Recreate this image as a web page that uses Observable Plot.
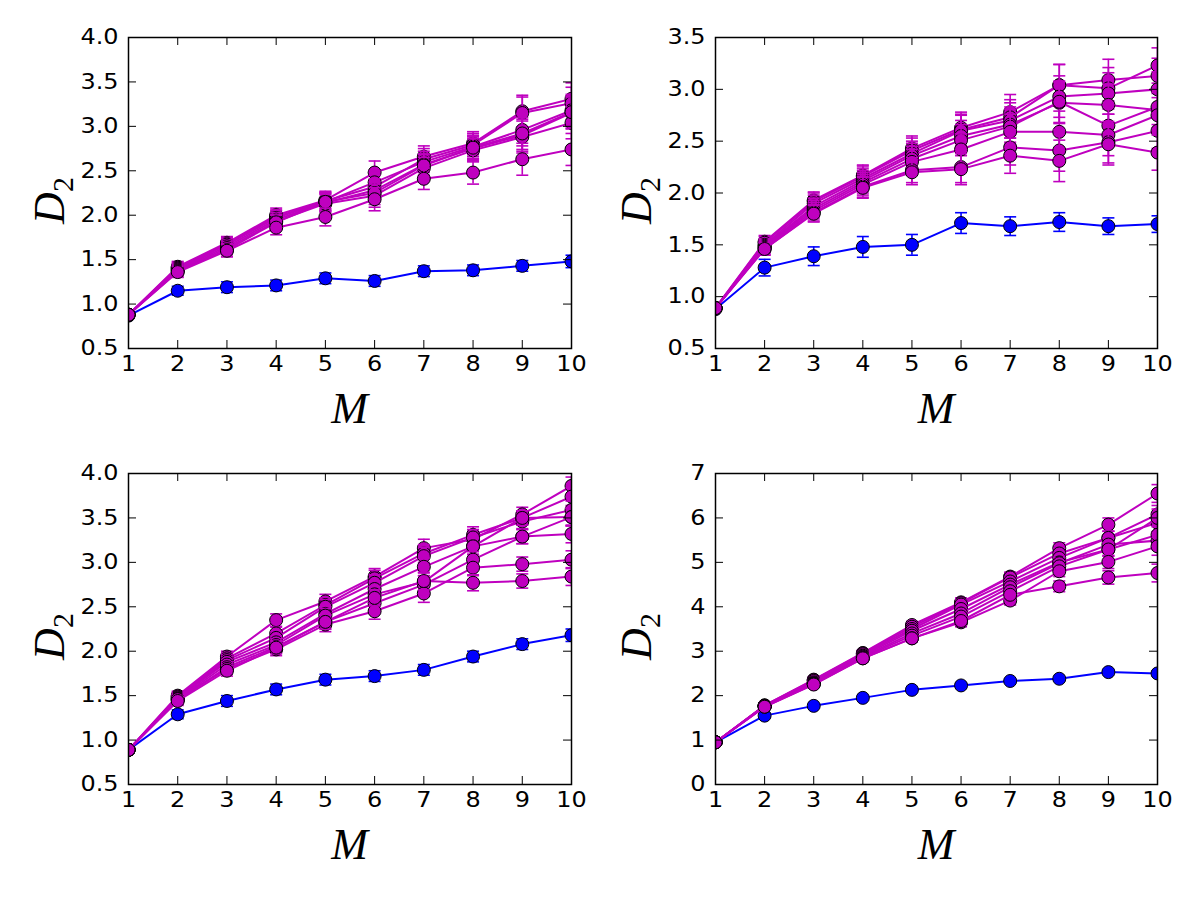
<!DOCTYPE html>
<html>
<head>
<meta charset="utf-8">
<script src="https://cdn.jsdelivr.net/npm/d3@7"></script>
<script src="https://cdn.jsdelivr.net/npm/@observablehq/plot@0.6"></script>
<style>
  body { margin: 0; background: #fff; width: 1200px; height: 900px; position: relative; overflow: hidden; }
  .panel { position: absolute; }
</style>
</head>
<body>
<div id="p1" class="panel" style="left:0px;top:0px"></div>
<div id="p2" class="panel" style="left:587px;top:0px"></div>
<div id="p3" class="panel" style="left:0px;top:436px"></div>
<div id="p4" class="panel" style="left:587px;top:436px"></div>
<script>
// Embedding dimension M on the x axis
const M = [1, 2, 3, 4, 5, 6, 7, 8, 9, 10];

// Tick values for each panel's y axis
const yTicks1 = [0.5, 1.0, 1.5, 2.0, 2.5, 3.0, 3.5, 4.0];
const yTicks2 = [0.5, 1.0, 1.5, 2.0, 2.5, 3.0, 3.5];
const yTicks3 = [0.5, 1.0, 1.5, 2.0, 2.5, 3.0, 3.5, 4.0];
const yTicks4 = [0, 1, 2, 3, 4, 5, 6, 7];

// Panel 1 (top left)
const blue1    = [0.87, 1.15, 1.19, 1.21, 1.29, 1.26, 1.37, 1.38, 1.43, 1.48];
const blueErr1 = [0.02, 0.05, 0.06, 0.06, 0.06, 0.06, 0.06, 0.06, 0.06, 0.07];
const magenta1 = [
  [0.88, 1.42, 1.69, 2.00, 2.17, 2.48, 2.66, 2.81, 3.17, 3.31],
  [0.88, 1.41, 1.68, 1.98, 2.16, 2.32, 2.63, 2.79, 3.15, 3.26],
  [0.88, 1.40, 1.67, 1.97, 2.15, 2.37, 2.60, 2.77, 2.96, 3.18],
  [0.88, 1.39, 1.65, 1.95, 2.14, 2.28, 2.57, 2.75, 2.90, 3.15],
  [0.88, 1.38, 1.63, 1.93, 2.13, 2.22, 2.53, 2.73, 2.88, 3.04],
  [0.88, 1.37, 1.61, 1.92, 2.15, 2.25, 2.56, 2.76, 2.92, 3.16],
  [0.88, 1.36, 1.60, 1.86, 1.98, 2.18, 2.41, 2.48, 2.63, 2.74]
];
const magentaErr1 = [0.02, 0.06, 0.07, 0.08, 0.10, 0.13, 0.12, 0.13, 0.18, 0.18];

// Panel 2 (top right)
const blue2    = [0.88, 1.28, 1.39, 1.48, 1.50, 1.71, 1.68, 1.72, 1.68, 1.70];
const blueErr2 = [0.02, 0.08, 0.09, 0.10, 0.10, 0.10, 0.09, 0.09, 0.08, 0.08];
const magenta2 = [
  [0.89, 1.53, 1.93, 2.17, 2.43, 2.63, 2.78, 3.04, 3.09, 3.13],
  [0.89, 1.52, 1.92, 2.16, 2.41, 2.61, 2.73, 3.04, 3.01, 3.23],
  [0.89, 1.50, 1.90, 2.14, 2.38, 2.60, 2.70, 2.93, 2.96, 3.00],
  [0.89, 1.49, 1.87, 2.12, 2.36, 2.55, 2.66, 2.87, 2.85, 2.80],
  [0.89, 1.48, 1.85, 2.10, 2.33, 2.51, 2.64, 2.88, 2.65, 2.83],
  [0.89, 1.47, 1.83, 2.08, 2.30, 2.42, 2.59, 2.59, 2.56, 2.75],
  [0.89, 1.46, 1.81, 2.06, 2.22, 2.25, 2.44, 2.41, 2.49, 2.60],
  [0.89, 1.46, 1.80, 2.05, 2.20, 2.23, 2.36, 2.31, 2.47, 2.39]
];
const magentaErr2 = [0.02, 0.06, 0.08, 0.10, 0.12, 0.15, 0.17, 0.20, 0.20, 0.17];

// Panel 3 (bottom left)
const blue3    = [0.89, 1.29, 1.44, 1.57, 1.68, 1.72, 1.79, 1.94, 2.08, 2.18];
const blueErr3 = [0.02, 0.05, 0.06, 0.06, 0.06, 0.06, 0.06, 0.06, 0.06, 0.07];
const magenta3 = [
  [0.89, 1.50, 1.94, 2.35, 2.56, 2.84, 3.16, 3.26, 3.54, 3.86],
  [0.89, 1.49, 1.92, 2.20, 2.52, 2.82, 3.10, 3.31, 3.50, 3.74],
  [0.89, 1.48, 1.90, 2.15, 2.50, 2.77, 3.07, 3.28, 3.46, 3.59],
  [0.89, 1.47, 1.88, 2.10, 2.42, 2.70, 2.95, 3.18, 3.50, 3.51],
  [0.89, 1.46, 1.85, 2.07, 2.40, 2.64, 2.78, 3.18, 3.29, 3.32],
  [0.89, 1.45, 1.82, 2.05, 2.33, 2.54, 2.75, 3.03, 3.29, 3.51],
  [0.89, 1.46, 1.80, 2.02, 2.30, 2.45, 2.65, 2.94, 2.98, 3.03],
  [0.89, 1.44, 1.78, 2.04, 2.33, 2.60, 2.79, 2.77, 2.79, 2.84]
];
const magentaErr3 = [0.02, 0.05, 0.06, 0.07, 0.08, 0.09, 0.10, 0.09, 0.08, 0.10];

// Panel 4 (bottom right)
const blue4    = [0.95, 1.55, 1.77, 1.95, 2.13, 2.23, 2.33, 2.38, 2.53, 2.50];
const blueErr4 = [0.03, 0.05, 0.05, 0.05, 0.05, 0.05, 0.05, 0.05, 0.06, 0.06];
const magenta4 = [
  [0.95, 1.78, 2.36, 2.96, 3.59, 4.10, 4.68, 5.32, 5.85, 6.55],
  [0.95, 1.78, 2.35, 2.95, 3.55, 4.08, 4.66, 5.20, 5.55, 6.08],
  [0.95, 1.77, 2.33, 2.93, 3.50, 4.05, 4.57, 5.10, 5.55, 5.89],
  [0.95, 1.77, 2.30, 2.90, 3.46, 3.95, 4.50, 5.00, 5.29, 6.00],
  [0.95, 1.76, 2.28, 2.88, 3.40, 3.85, 4.44, 4.98, 5.40, 5.49],
  [0.95, 1.76, 2.27, 2.86, 3.35, 3.78, 4.35, 4.91, 5.29, 5.62],
  [0.95, 1.75, 2.26, 2.84, 3.29, 3.65, 4.14, 4.80, 5.01, 5.36],
  [0.95, 1.75, 2.25, 2.84, 3.29, 3.68, 4.27, 4.46, 4.66, 4.76]
];
const magentaErr4 = [0.03, 0.05, 0.06, 0.07, 0.08, 0.10, 0.10, 0.12, 0.15, 0.20];

const BLUE = "#0000ff";
const MAGENTA = "#bf00bf";
const TICK = 8;            // inward tick length in px
const LABEL_STRETCH = 1.14; // wide tick-label lettering

// Horizontal error-bar cap drawn as a dot symbol
const capSymbol = {
  draw(ctx, size) {
    const r = Math.sqrt(size / Math.PI);
    ctx.moveTo(-r, 0);
    ctx.lineTo(r, 0);
  }
};

function panel(id, o) {
  const series = [{v: o.blue, e: o.blueErr, c: BLUE}]
    .concat(o.magenta.map(v => ({v, e: o.magentaErr, c: MAGENTA})));
  const fw = o.width - o.ml - o.mr;
  const fh = o.height - o.mt - o.mb;
  const marks = [];
  for (const s of series) {
    const rows = M.map((m, i) => ({m, y: s.v[i], lo: s.v[i] - s.e[i], hi: s.v[i] + s.e[i]}));
    marks.push(
      Plot.ruleX(rows, {x: "m", y1: "lo", y2: "hi", stroke: s.c, strokeWidth: 1.6, clip: true}),
      Plot.dot(rows, {x: "m", y: "lo", symbol: capSymbol, r: 6, fill: "none", stroke: s.c, strokeWidth: 1.6, clip: true}),
      Plot.dot(rows, {x: "m", y: "hi", symbol: capSymbol, r: 6, fill: "none", stroke: s.c, strokeWidth: 1.6, clip: true}),
      Plot.line(rows, {x: "m", y: "y", stroke: s.c, strokeWidth: 2, clip: true}),
      Plot.dot(rows, {x: "m", y: "y", r: 6.5, fill: s.c, stroke: "black", strokeWidth: 1, clip: true})
    );
  }
  // inward ticks on all four sides
  marks.push(
    Plot.tickY(o.yTicks, {y: d => d, insetRight: fw - TICK, stroke: "black", strokeWidth: 1}),
    Plot.tickY(o.yTicks, {y: d => d, insetLeft: fw - TICK, stroke: "black", strokeWidth: 1}),
    Plot.tickX(M, {x: d => d, insetTop: fh - TICK, stroke: "black", strokeWidth: 1}),
    Plot.tickX(M, {x: d => d, insetBottom: fh - TICK, stroke: "black", strokeWidth: 1}),
    Plot.axisX({ticks: M, tickSize: 0, tickPadding: 8, label: null, tickFormat: d3.format("d"), fontSize: 21}),
    Plot.axisY({ticks: o.yTicks, tickSize: 0, tickPadding: 10, label: null, tickFormat: o.fmt, fontSize: 21}),
    Plot.frame({stroke: "black", strokeWidth: 1.5})
  );

  const chart = Plot.plot({
    width: o.width,
    height: o.height,
    marginLeft: o.ml,
    marginRight: o.mr,
    marginTop: o.mt,
    marginBottom: o.mb,
    style: {fontSize: "21px", fontFamily: "DejaVu Sans, sans-serif", color: "black", background: "white", overflow: "visible"},
    x: {domain: [1, 10]},
    y: {domain: o.yDomain},
    marks
  });

  const svg = d3.select(chart);
  // widen tick labels horizontally about their anchor point
  svg.selectAll('g[aria-label$="tick label"] text').each(function () {
    const t = this.getAttribute("transform");
    if (t) {
      this.setAttribute("transform", `${t} scale(${LABEL_STRETCH},1)`);
    } else {
      const x = +this.getAttribute("x") || 0;
      const y = +this.getAttribute("y") || 0;
      this.removeAttribute("x");
      this.removeAttribute("y");
      this.setAttribute("transform", `translate(${x},${y}) scale(${LABEL_STRETCH},1)`);
    }
  });

  const cx = o.ml + fw / 2;
  const cy = o.mt + fh / 2;
  // x axis label
  svg.append("text")
    .attr("x", cx)
    .attr("y", o.mt + fh + 75)
    .attr("text-anchor", "middle")
    .attr("font-family", "Liberation Serif, DejaVu Serif, serif")
    .attr("font-style", "italic")
    .attr("font-size", 44)
    .attr("fill", "black")
    .text("M");
  // y axis label D_2
  const yl = svg.append("text")
    .attr("transform", `translate(64,${cy + 8}) rotate(-90)`)
    .attr("text-anchor", "middle")
    .attr("font-family", "Liberation Serif, DejaVu Serif, serif")
    .attr("font-size", 44)
    .attr("fill", "black");
  yl.append("tspan").attr("font-style", "italic").text("D");
  yl.append("tspan").attr("font-size", 30).attr("dy", "0.3em").text("2");

  document.getElementById(id).appendChild(chart);
}

const fmt1 = d3.format(".1f");
const fmt0 = d3.format("d");

panel("p1", {width: 600, height: 437, ml: 128, mr: 29, mt: 37, mb: 89,
  yDomain: [0.5, 4.0], yTicks: yTicks1, fmt: fmt1,
  blue: blue1, blueErr: blueErr1, magenta: magenta1, magentaErr: magentaErr1});
panel("p2", {width: 613, height: 437, ml: 128, mr: 43, mt: 37, mb: 89,
  yDomain: [0.5, 3.5], yTicks: yTicks2, fmt: fmt1,
  blue: blue2, blueErr: blueErr2, magenta: magenta2, magentaErr: magentaErr2});
panel("p3", {width: 600, height: 464, ml: 128, mr: 29, mt: 37, mb: 116,
  yDomain: [0.5, 4.0], yTicks: yTicks3, fmt: fmt1,
  blue: blue3, blueErr: blueErr3, magenta: magenta3, magentaErr: magentaErr3});
panel("p4", {width: 613, height: 464, ml: 128, mr: 43, mt: 37, mb: 116,
  yDomain: [0, 7], yTicks: yTicks4, fmt: fmt0,
  blue: blue4, blueErr: blueErr4, magenta: magenta4, magentaErr: magentaErr4});
</script>
</body>
</html>
